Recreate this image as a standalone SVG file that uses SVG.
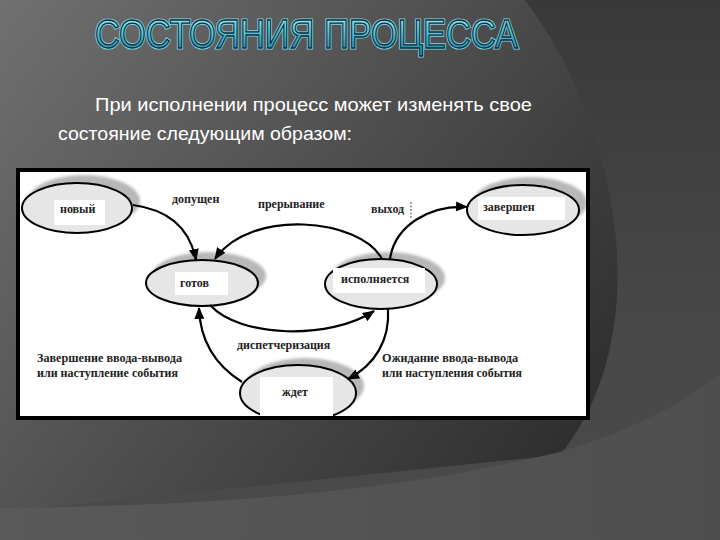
<svg xmlns="http://www.w3.org/2000/svg" width="720" height="540" viewBox="0 0 720 540">
<defs>
<linearGradient id="out" x1="0" y1="0" x2="0" y2="540" gradientUnits="userSpaceOnUse">
<stop offset="0" stop-color="#393939"/>
<stop offset="0.6" stop-color="#484848"/>
<stop offset="1" stop-color="#4a4a4a"/>
</linearGradient>
<linearGradient id="in" x1="0" y1="0" x2="600" y2="460" gradientUnits="userSpaceOnUse">
<stop offset="0" stop-color="#707070"/>
<stop offset="1" stop-color="#2c2c2c"/>
</linearGradient>
<linearGradient id="low" x1="0" y1="0" x2="1" y2="0">
<stop offset="0" stop-color="#595959"/>
<stop offset="1" stop-color="#4e4e4e"/>
</linearGradient>
<linearGradient id="title" x1="0" y1="17" x2="0" y2="48" gradientUnits="userSpaceOnUse">
<stop offset="0" stop-color="#9eeaf2"/>
<stop offset="0.5" stop-color="#56c4d8"/>
<stop offset="1" stop-color="#2e90b0"/>
</linearGradient>
<filter id="blur" x="-20%" y="-20%" width="140%" height="140%"><feGaussianBlur stdDeviation="1.5"/></filter>
<clipPath id="box"><rect x="20" y="172" width="566" height="244"/></clipPath>
<marker id="arr" viewBox="0 0 12 10" refX="11" refY="5" markerWidth="12" markerHeight="10" markerUnits="userSpaceOnUse" orient="auto">
<path d="M0,0 L12,5 L0,10 Z" fill="#000"/>
</marker>
<style>
.sh{fill:#b8b8b8;filter:url(#blur)}
.el{fill:#e6e6e6;stroke:#000;stroke-width:2}
.lb{fill:#fff}
.t{font-family:"Liberation Serif",serif;font-weight:bold;font-size:12px;fill:#222}
.c{fill:none;stroke:#000;stroke-width:2.2;marker-end:url(#arr)}
.sub{font-family:"Liberation Sans Narrow","Liberation Sans",Arial,sans-serif;font-size:18px;fill:#fff}
.ttl{font-family:"Liberation Sans Narrow","Liberation Sans",Arial,sans-serif;font-size:40px}
</style>
</defs>
<rect width="720" height="540" fill="url(#out)"/>
<path d="M525,0 C570,60 605,140 615,230 C625,320 605,400 560,455 L0,512 L0,0 Z" fill="url(#in)"/>
<path d="M0,508 C200,506 380,495 560,452 C630,432 690,400 720,373 L720,540 L0,540 Z" fill="url(#low)"/>
<text class="ttl" x="95" y="48" textLength="423" lengthAdjust="spacingAndGlyphs" fill="none" stroke="#7cd6e4" stroke-width="3.2">СОСТОЯНИЯ ПРОЦЕССА</text>
<text class="ttl" x="95" y="48" textLength="423" lengthAdjust="spacingAndGlyphs" fill="url(#title)" stroke="#10303f" stroke-width="1.3">СОСТОЯНИЯ ПРОЦЕССА</text>
<text class="sub" x="95" y="111" textLength="437" lengthAdjust="spacingAndGlyphs">При исполнении процесс может изменять свое</text>
<text class="sub" x="58" y="140" textLength="294" lengthAdjust="spacingAndGlyphs">состояние следующим образом:</text>
<rect x="18" y="170" width="570" height="248" fill="#fff" stroke="#000" stroke-width="4"/>
<g clip-path="url(#box)">
<g id="node-new">
<ellipse class="sh" cx="84" cy="201" rx="56" ry="26"/>
<ellipse class="el" cx="77" cy="208" rx="55" ry="25"/>
<rect class="lb" x="54" y="200" width="51" height="25"/>
<text class="t" x="60" y="213">новый</text>
</g>
<g id="node-ready">
<ellipse class="sh" cx="209" cy="276" rx="57" ry="24"/>
<ellipse class="el" cx="202" cy="283" rx="56" ry="23"/>
<rect class="lb" x="175" y="272" width="53" height="23"/>
<text class="t" x="180" y="287">готов</text>
</g>
<g id="node-running">
<ellipse class="sh" cx="388" cy="278" rx="57" ry="26"/>
<ellipse class="el" cx="381" cy="284" rx="56" ry="25"/>
<rect class="lb" x="333" y="268" width="92" height="25"/>
<text class="t" x="341" y="283">исполняется</text>
</g>
<g id="node-done">
<ellipse class="sh" cx="530" cy="203" rx="57" ry="26"/>
<ellipse class="el" cx="523" cy="210" rx="56" ry="25"/>
<rect class="lb" x="478" y="197" width="87" height="23"/>
<text class="t" x="483" y="211">завершен</text>
</g>
<g id="node-wait">
<ellipse class="sh" cx="305" cy="386" rx="59" ry="28"/>
<ellipse class="el" cx="298" cy="393" rx="58" ry="28"/>
<rect class="lb" x="260" y="377" width="73" height="40"/>
<text class="t" x="282" y="396">ждет</text>
</g>
</g>
<g id="connectors">
<path class="c" d="M133,205 C170,210 190,230 196,260"/>
<path class="c" d="M382,259 C360,218 250,208 215,259"/>
<path class="c" d="M390,259 C395,225 430,205 467,207"/>
<path class="c" d="M210,305 C240,338 330,340 374,311"/>
<path class="c" d="M388,309 C390,340 375,365 348,379"/>
<path class="c" d="M242,382 C215,365 200,340 199,308"/>
</g>
<g id="labels">
<text class="t" x="172" y="203">допущен</text>
<text class="t" x="258" y="208">прерывание</text>
<text class="t" x="371" y="213">выход</text>
<line x1="411" y1="202" x2="411" y2="218" stroke="#444" stroke-width="1" stroke-dasharray="2,1.5"/>
<text class="t" x="237" y="349">диспетчеризация</text>
<text class="t" x="37" y="362" textLength="145" lengthAdjust="spacingAndGlyphs">Завершение ввода-вывода</text>
<text class="t" x="37" y="377" textLength="141" lengthAdjust="spacingAndGlyphs">или наступление события</text>
<text class="t" x="382" y="362" textLength="136" lengthAdjust="spacingAndGlyphs">Ожидание ввода-вывода</text>
<text class="t" x="382" y="377" textLength="140" lengthAdjust="spacingAndGlyphs">или наступления события</text>
</g>
</svg>
